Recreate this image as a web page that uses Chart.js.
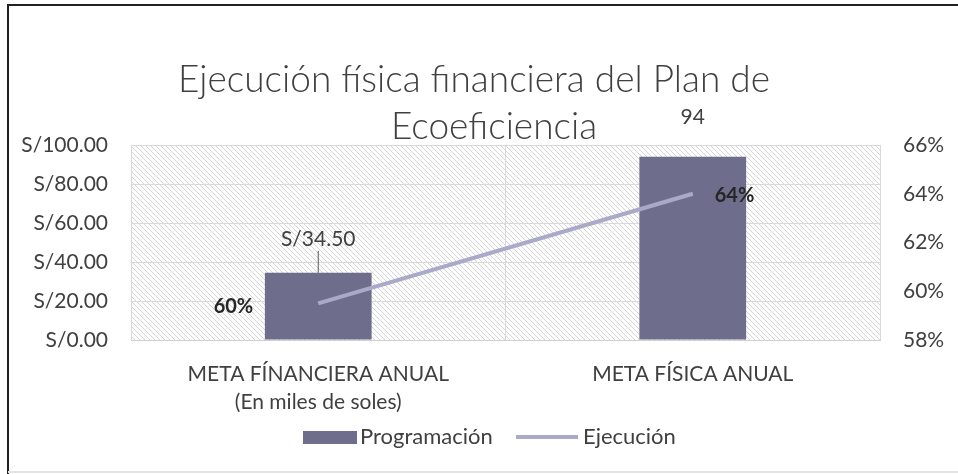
<!DOCTYPE html>
<html>
<head>
<meta charset="utf-8">
<script src="https://cdn.jsdelivr.net/npm/chart.js@4.4.1/dist/chart.umd.min.js"></script>
<style>
    html, body { margin: 0; padding: 0; background: #fff; }
    #wrap { width: 958px; height: 474px; position: relative; }
</style>
</head>
<body>
<div id="wrap"><canvas id="chart"></canvas></div>
<script>
// datos del grafico
const categories = [["META FÍNANCIERA ANUAL", "(En miles de soles)"], "META FÍSICA ANUAL"];
const programacion = [34.5, 94];
const programacionLabels = ["S/34.50", "94"];
const ejecucion = [0.595, 0.64];
const ejecucionLabels = ["60%", "64%"];
const leftTicks = [0, 20, 40, 60, 80, 100];
const rightTicks = [0.58, 0.60, 0.62, 0.64, 0.66];
const titleLines = ["Ejecución física financiera del Plan de", "Ecoeficiencia"];

const FONT = "Lato, 'Open Sans', sans-serif";
const TEXT = "#404040";
const BAR = "#6e6e8c";
const LINE = "#a9a9c9";

// Fondo rayado del area del grafico
function hatchPattern(ctx) {
    const c = document.createElement("canvas");
    c.width = 5; c.height = 5;
    const p = c.getContext("2d");
    p.fillStyle = "#fdfdfd";
    p.fillRect(0, 0, 5, 5);
    p.strokeStyle = "rgba(0,0,0,0.2)";
    p.lineWidth = 0.8;
    p.beginPath();
    p.moveTo(-1, -1); p.lineTo(6, 6);
    p.moveTo(-1, 4); p.lineTo(1, 6);
    p.moveTo(4, -1); p.lineTo(6, 1);
    p.stroke();
    return ctx.createPattern(c, "repeat");
}

const decoPlugin = {
    id: "deco",
    beforeDraw(chart) {
        const { ctx, chartArea: a } = chart;
        ctx.save();
        ctx.fillStyle = hatchPattern(ctx);
        ctx.fillRect(a.left, a.top, a.right - a.left, a.bottom - a.top);
        // marco
        ctx.strokeStyle = "#222";
        ctx.lineWidth = 2;
        ctx.beginPath();
        ctx.moveTo(8, 474); ctx.lineTo(8, 5); ctx.lineTo(958, 5);
        ctx.stroke();
        ctx.strokeStyle = "#e4e4e4";
        ctx.beginPath();
        ctx.moveTo(8, 472); ctx.lineTo(958, 472);
        ctx.stroke();
        // titulo
        ctx.fillStyle = TEXT;
        ctx.font = "300 37px " + FONT;
        ctx.textAlign = "center";
        ctx.textBaseline = "middle";
        ctx.fillText(titleLines[0], 474, 80);
        ctx.fillText(titleLines[1], 494, 127);
        ctx.restore();
    },
    afterDraw(chart) {
        const { ctx } = chart;
        ctx.save();
        ctx.textBaseline = "middle";
        // etiquetas de barras
        const bars = chart.getDatasetMeta(0).data;
        const gaps = [33, 39];
        ctx.font = "21px " + FONT;
        ctx.fillStyle = TEXT;
        ctx.textAlign = "center";
        bars.forEach((b, i) => {
            const y = b.y - gaps[i];
            ctx.fillText(programacionLabels[i], b.x, y);
            if (i === 0) {
                ctx.strokeStyle = "#595959";
                ctx.lineWidth = 1;
                ctx.beginPath();
                ctx.moveTo(b.x, y + 11); ctx.lineTo(b.x, b.y);
                ctx.stroke();
            }
        });
        // etiquetas de linea
        const pts = chart.getDatasetMeta(1).data;
        ctx.font = "bold 20px " + FONT;
        ctx.fillStyle = "#262626";
        ctx.textAlign = "right";
        ctx.fillText(ejecucionLabels[0], pts[0].x - 65, pts[0].y + 3);
        ctx.textAlign = "left";
        ctx.fillText(ejecucionLabels[1], pts[1].x + 22, pts[1].y + 2);
        // leyenda
        ctx.font = "22px " + FONT;
        ctx.fillStyle = BAR;
        ctx.fillRect(303, 431, 54, 13);
        ctx.fillStyle = TEXT;
        ctx.fillText("Programación", 360, 437);
        ctx.strokeStyle = LINE;
        ctx.lineWidth = 4;
        ctx.beginPath();
        ctx.moveTo(516, 437); ctx.lineTo(578, 437);
        ctx.stroke();
        ctx.fillText("Ejecución", 583, 437);
        ctx.restore();
    }
};

new Chart(document.getElementById("chart"), {
    data: {
        labels: categories,
        datasets: [
            {
                type: "bar",
                label: "Programación",
                data: programacion,
                backgroundColor: BAR,
                yAxisID: "y",
                categoryPercentage: 1,
                barPercentage: 0.285,
                order: 2
            },
            {
                type: "line",
                label: "Ejecución",
                data: ejecucion,
                borderColor: LINE,
                borderWidth: 4,
                pointRadius: 0,
                yAxisID: "y1",
                order: 1
            }
        ]
    },
    plugins: [decoPlugin],
    options: {
        responsive: true,
        maintainAspectRatio: false,
        animation: false,
        layout: { padding: { top: 145, left: 10, right: 10, bottom: 0 } },
        plugins: {
            legend: { display: false },
            title: { display: false },
            tooltip: { enabled: false }
        },
        scales: {
            x: {
                offset: true,
                grid: { color: "#d9d9d9", drawTicks: false, offset: true },
                border: { color: "#d0d0d0" },
                ticks: {
                    color: TEXT,
                    font: { size: 21, family: FONT, lineHeight: 1.3 },
                    padding: 21,
                    maxRotation: 0
                },
                afterFit(s) { s.height = 134; }
            },
            y: {
                position: "left",
                min: 0,
                max: 100,
                afterBuildTicks(s) { s.ticks = leftTicks.map(v => ({ value: v })); },
                grid: { color: "#d9d9d9", drawTicks: false },
                border: { display: false },
                ticks: {
                    color: TEXT,
                    font: { size: 21, family: FONT },
                    padding: 23,
                    callback: v => "S/" + v.toFixed(2)
                },
                afterFit(s) { s.width = 121; }
            },
            y1: {
                position: "right",
                min: 0.58,
                max: 0.66,
                afterBuildTicks(s) { s.ticks = rightTicks.map(v => ({ value: v })); },
                grid: { display: false, drawTicks: false },
                border: { display: false },
                ticks: {
                    color: TEXT,
                    font: { size: 21, family: FONT },
                    padding: 23,
                    callback: v => Math.round(v * 100) + "%"
                },
                afterFit(s) { s.width = 68; }
            }
        }
    }
});
</script>
</body>
</html>
